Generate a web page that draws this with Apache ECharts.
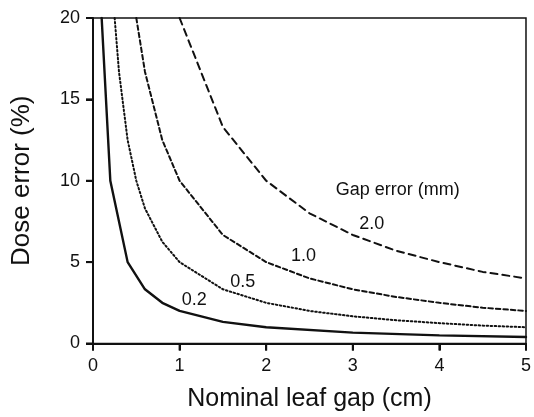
<!DOCTYPE html>
<html><head><meta charset="utf-8">
<script src="https://cdn.jsdelivr.net/npm/echarts@6/dist/echarts.min.js"></script>
<style>html,body{margin:0;padding:0;background:#fff}#c{width:534px;height:417px}</style>
</head><body><div id="c"></div>
<script>
// Nominal leaf gap (cm) vs dose error (%) for several gap errors (mm)
var gap02 = [[0.1,20],[0.2,10],[0.4,5],[0.6,3.33],[0.8,2.5],[1,2],[1.5,1.33],[2,1],[3,0.67],[4,0.5],[5,0.4]];
var gap05 = [[0.25,20],[0.3,16.7],[0.4,12.5],[0.5,10],[0.6,8.3],[0.8,6.25],[1,5],[1.5,3.33],[2,2.5],[2.5,2],[3,1.67],[3.5,1.43],[4,1.25],[4.5,1.1],[5,1]];
var gap10 = [[0.5,20],[0.6,16.7],[0.8,12.5],[1,10],[1.5,6.67],[2,5],[2.5,4],[3,3.33],[3.5,2.86],[4,2.5],[4.5,2.2],[5,2]];
var gap20 = [[1,20],[1.5,13.3],[2,10],[2.5,8],[3,6.67],[3.5,5.7],[4,5],[4.5,4.4],[5,4]];
var xTicks = [0,1,2,3,4,5];
var yTicks = [0,5,10,15,20];
var curveLabels = [
  {text:'0.2', at:[1.17,2.7]},
  {text:'0.5', at:[1.73,3.8]},
  {text:'1.0', at:[2.43,5.35]},
  {text:'2.0', at:[3.22,7.35]}
];
var legendTitle = {text:'Gap error (mm)', at:[3.52,9.45]};

var chart = echarts.init(document.getElementById('c'));
var ff = 'Liberation Sans, Arial, sans-serif';
function ser(name, data, dash, w){
  return {name:name, type:'line', data:data, symbol:'none', smooth:false, clip:true,
    lineStyle:{color:'#111', width:w, type:dash, cap:'round'}};
}
chart.setOption({
  animation:false,
  grid:{left:93, right:5, top:18, bottom:73, show:true, borderColor:'#111', borderWidth:1.5},
  xAxis:{type:'value', min:0, max:5, interval:1,
    name:'Nominal leaf gap (cm)', nameLocation:'middle', nameGap:56,
    nameTextStyle:{fontFamily:ff, fontSize:25, color:'#111', verticalAlign:'middle'},
    axisLine:{show:true, lineStyle:{color:'#111', width:2}},
    axisTick:{show:true, inside:false, length:7, lineStyle:{color:'#111', width:2}},
    axisLabel:{fontFamily:ff, fontSize:18, color:'#111', margin:14},
    splitLine:{show:false}},
  yAxis:{type:'value', min:0, max:20, interval:5,
    name:'Dose error (%)', nameLocation:'middle', nameGap:71, nameRotate:90,
    nameTextStyle:{fontFamily:ff, fontSize:26, color:'#111', verticalAlign:'middle'},
    axisLine:{show:true, lineStyle:{color:'#111', width:2}},
    axisTick:{show:true, inside:false, length:7, lineStyle:{color:'#111', width:2}},
    axisLabel:{fontFamily:ff, fontSize:18, color:'#111', margin:13},
    splitLine:{show:false}},
  series:[
    ser('0.2', gap02, 'solid', 2.4),
    ser('0.5', gap05, [1.5,2.5], 2),
    ser('1.0', gap10, [4.5,3], 2),
    ser('2.0', gap20, [7,5], 2)
  ]
});
var g = [];
curveLabels.concat([legendTitle]).forEach(function(l){
  var p = chart.convertToPixel({gridIndex:0}, l.at);
  g.push({type:'text', x:p[0], y:p[1], style:{text:l.text, fontFamily:ff, fontSize:18, fill:'#111', align:'center', verticalAlign:'middle'}});
});
xTicks.forEach(function(v){
  var p = chart.convertToPixel({gridIndex:0}, [v,0]);
  g.push({type:'rect', shape:{x:p[0]-1, y:p[1], width:2, height:7}, style:{fill:'#111'}, z:10});
});
yTicks.forEach(function(v){
  var p = chart.convertToPixel({gridIndex:0}, [0,v]);
  g.push({type:'rect', shape:{x:p[0]-7, y:p[1]-1, width:7, height:2}, style:{fill:'#111'}, z:10});
});
chart.setOption({graphic:g});
</script></body></html>
